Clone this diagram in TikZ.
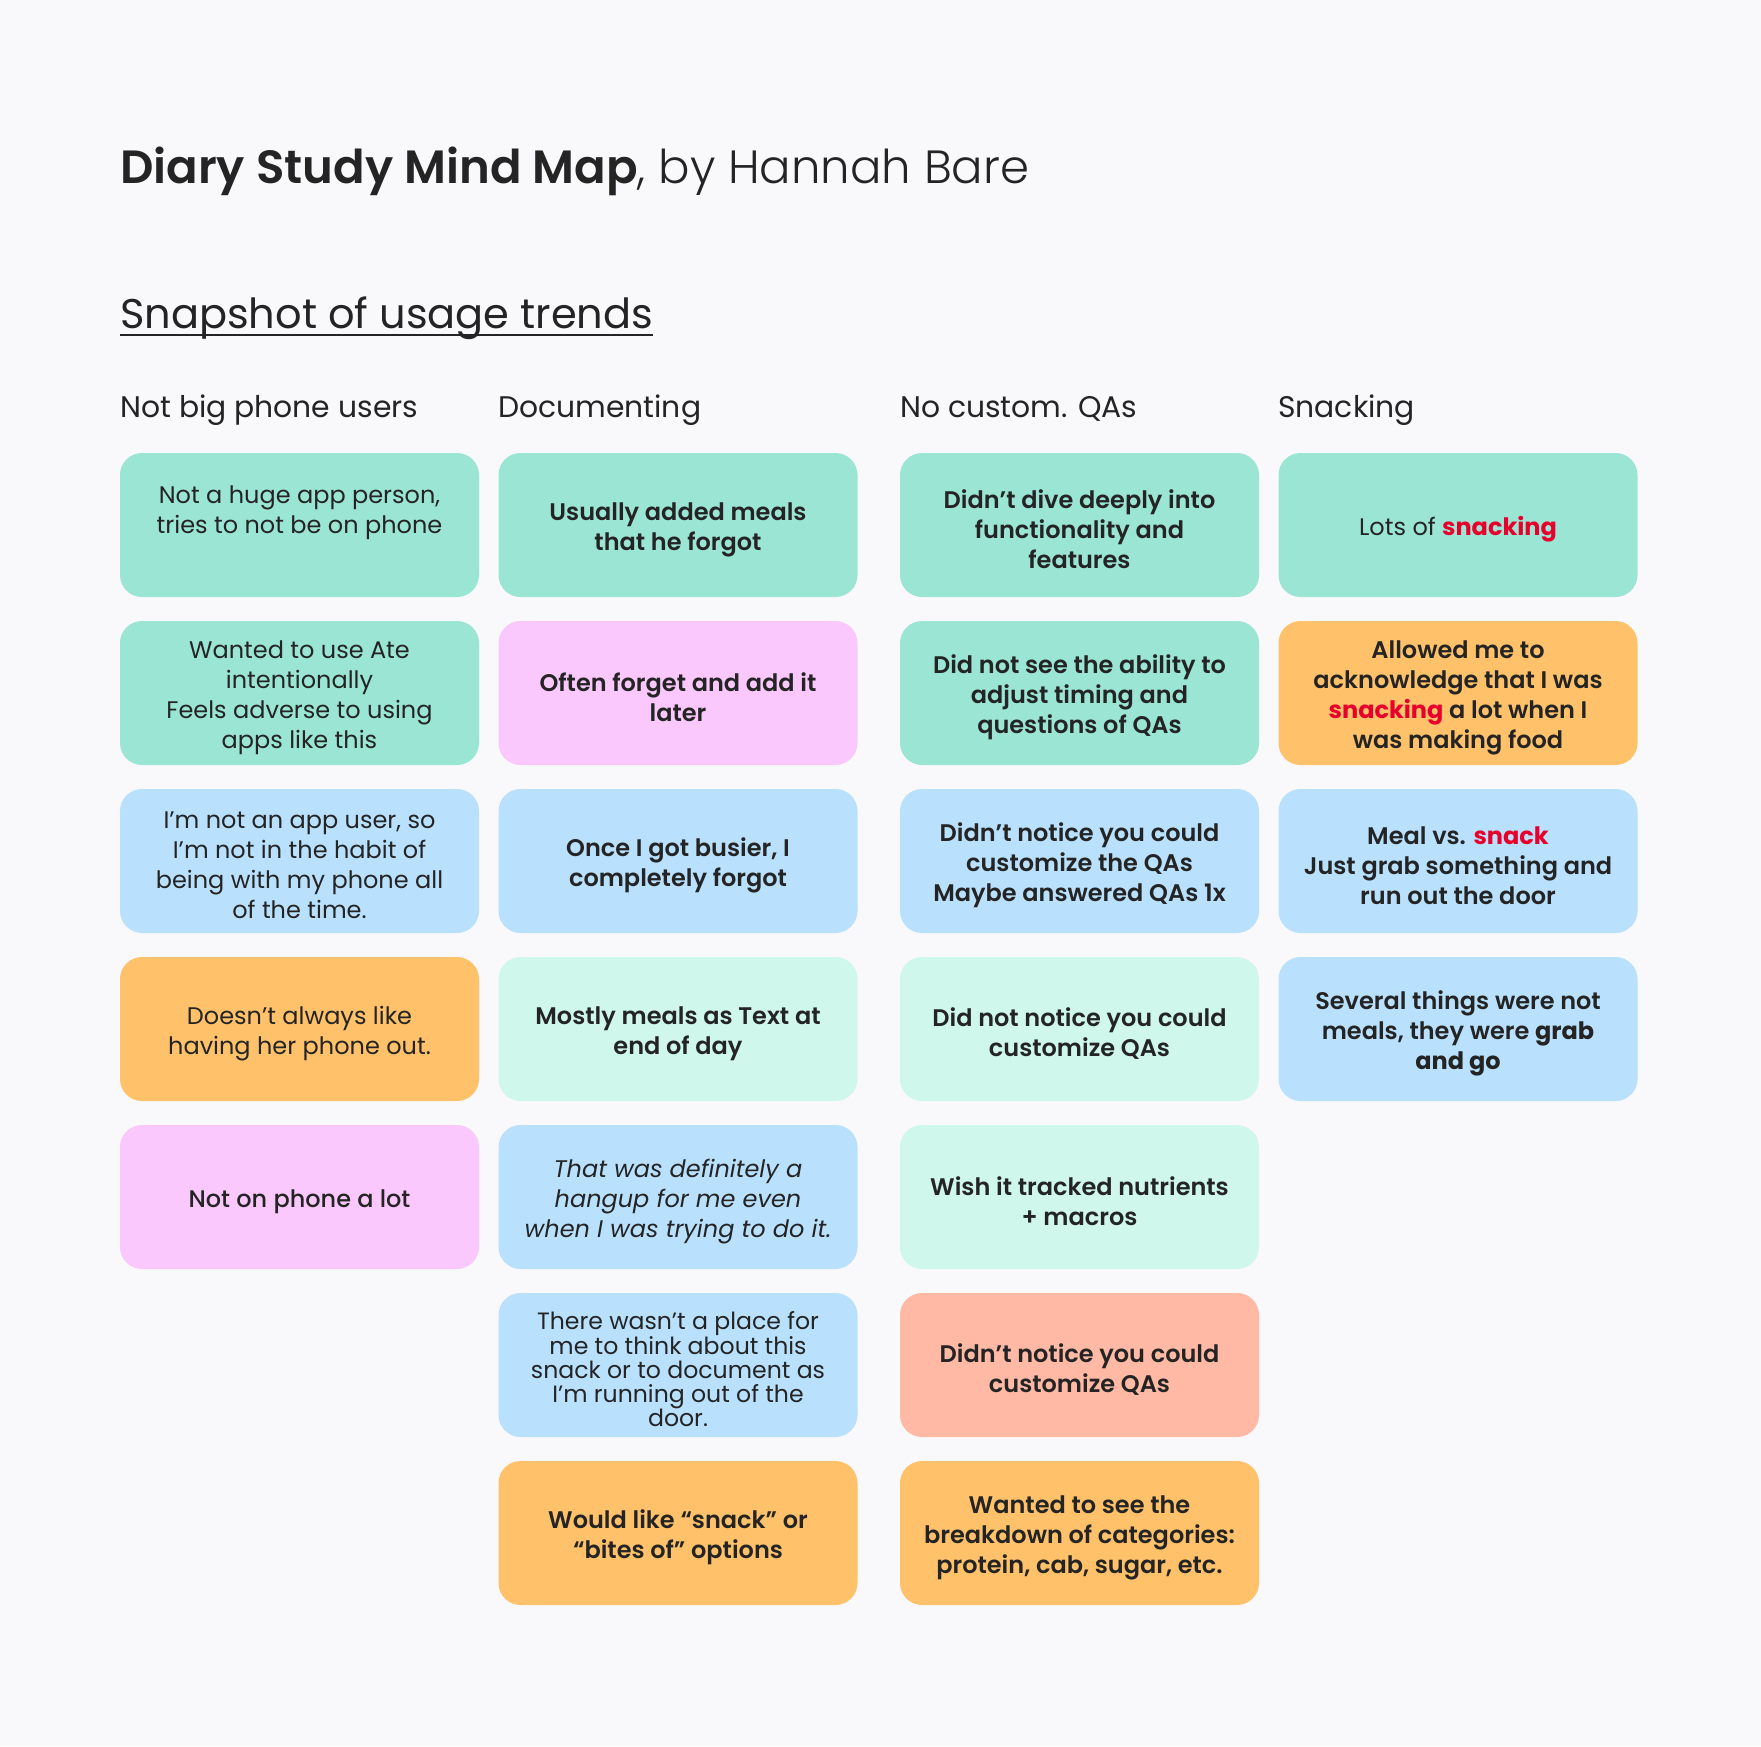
\documentclass[tikz,border=0pt]{standalone}
\usepackage{fontspec}
\setmainfont{Poppins}
\newfontfamily\psemi{Poppins SemiBold}
\newfontfamily\pbold{Poppins Bold}
\newfontfamily\plight{Poppins Light}
\newfontfamily\pmed{Poppins Medium}
\definecolor{bg}{HTML}{F9F9FB}
\definecolor{ink}{HTML}{242424}
\definecolor{cteal}{HTML}{9BE5D5}
\definecolor{cpink}{HTML}{FAC8FC}
\definecolor{cblue}{HTML}{B9E1FD}
\definecolor{corange}{HTML}{FFC26B}
\definecolor{cmint}{HTML}{CFF7EC}
\definecolor{csalmon}{HTML}{FFB9A5}
\definecolor{hired}{HTML}{E8002D}
\newcommand{\hl}[1]{{\pbold\color{hired}#1}}
\tikzset{
  card/.style={rounded corners=22pt, minimum width=359pt, minimum height=144pt, inner sep=0pt},
  kteal/.style={card, fill=cteal},
  kpink/.style={card, fill=cpink},
  kblue/.style={card, fill=cblue},
  korange/.style={card, fill=corange},
  kmint/.style={card, fill=cmint},
  ksalmon/.style={card, fill=csalmon},
  cardtext/.style={inner sep=0pt, align=center, text=ink, font=\fontsize{24}{30}\selectfont},
  reg/.style={},
  semi/.style={font=\fontsize{24}{30}\selectfont\psemi},
  colhead/.style={anchor=base west, inner sep=0pt, text=ink, font=\fontsize{29.8}{34}\selectfont},
}
% name, box style, position, text style, text
\newcommand{\mkcard}[5]{%
  \node[#2] (#1) at (#3) {};
  \node[cardtext, #4] (#1t) at ([yshift=-4.5pt]#1.center) {#5};}
\begin{document}
\begin{tikzpicture}[x=1pt,y=-1pt]
\fill[bg] (0,0) rectangle (1761,1746);
\useasboundingbox (0,0) rectangle (1761,1746);

\node[anchor=base west, inner sep=0pt, text=ink, font=\fontsize{46.6}{56}\selectfont] (title) at (120,183)
  {{\psemi Diary Study Mind Map}{\plight, by Hannah Bare}};
\node[anchor=base west, inner sep=0pt, text=ink, font=\fontsize{41.5}{48}\selectfont] (snap) at (120,328)
  {Snapshot of usage trends};
\draw[ink, line width=2pt] ([yshift=-7pt]snap.base west) -- ([yshift=-7pt]snap.base east);

\node[colhead] (h1) at (120,417) {Not big phone users};
\node[colhead] (h2) at (498,417) {Documenting};
\node[colhead] (h3) at (900,417) {No custom. QAs};
\node[colhead] (h4) at (1278,417) {Snacking};

% column 1
\mkcard{a1}{kteal}{299.5,525}{reg}{Not a huge app person,\\tries to not be on phone\\\strut}
\mkcard{a2}{kteal}{299.5,693}{reg}{Wanted to use Ate\\intentionally\\Feels adverse to using\\apps like this}
\mkcard{a3}{kblue}{299.5,861}{reg}{I’m not an app user, so\\I’m not in the habit of\\being with my phone all\\of the time.}
\mkcard{a4}{korange}{299.5,1029}{reg}{Doesn’t always like\\having her phone out.}
\mkcard{a5}{kpink}{299.5,1197}{font=\fontsize{24}{30}\selectfont\pmed}{Not on phone a lot}

% column 2
\mkcard{b1}{kteal}{678,525}{semi}{Usually added meals\\that he forgot}
\mkcard{b2}{kpink}{678,693}{semi}{Often forget and add it\\later}
\mkcard{b3}{kblue}{678,861}{semi}{Once I got busier, I\\completely forgot}
\mkcard{b4}{kmint}{678,1029}{semi}{Mostly meals as Text at\\end of day}
\mkcard{b5}{kblue}{678,1197}{font=\fontsize{24}{30}\selectfont\itshape}{That was definitely a\\hangup for me even\\when I was trying to do it.}
\mkcard{b6}{kblue}{678,1365}{font=\fontsize{23.6}{24}\selectfont}{There wasn’t a place for\\me to think about this\\snack or to document as\\I’m running out of the\\door.}
\mkcard{b7}{korange}{678,1533}{semi}{Would like “snack” or\\“bites of” options}

% column 3
\mkcard{c1}{kteal}{1079.5,525}{semi}{Didn’t dive deeply into\\functionality and\\features}
\mkcard{c2}{kteal}{1079.5,693}{semi}{Did not see the ability to\\adjust timing and\\questions of QAs}
\mkcard{c3}{kblue}{1079.5,861}{semi}{Didn’t notice you could\\customize the QAs\\Maybe answered QAs 1x}
\mkcard{c4}{kmint}{1079.5,1029}{semi}{Did not notice you could\\customize QAs}
\mkcard{c5}{kmint}{1079.5,1197}{semi}{Wish it tracked nutrients\\+ macros}
\mkcard{c6}{ksalmon}{1079.5,1365}{semi}{Didn’t notice you could\\customize QAs}
\mkcard{c7}{korange}{1079.5,1533}{semi}{Wanted to see the\\breakdown of categories:\\protein, cab, sugar, etc.}

% column 4
\mkcard{d1}{kteal}{1458,525}{reg}{Lots of \hl{snacking}}
\mkcard{d2}{korange}{1458,693}{semi}{Allowed me to\\acknowledge that I was\\\hl{snacking} a lot when I\\was making food}
\mkcard{d3}{kblue}{1458,861}{semi}{Meal vs. \hl{snack}\\Just grab something and\\run out the door}
\mkcard{d4}{kblue}{1458,1029}{semi}{Several things were not\\meals, they were {\pbold grab}\\{\pbold and go}}
\end{tikzpicture}
\end{document}
